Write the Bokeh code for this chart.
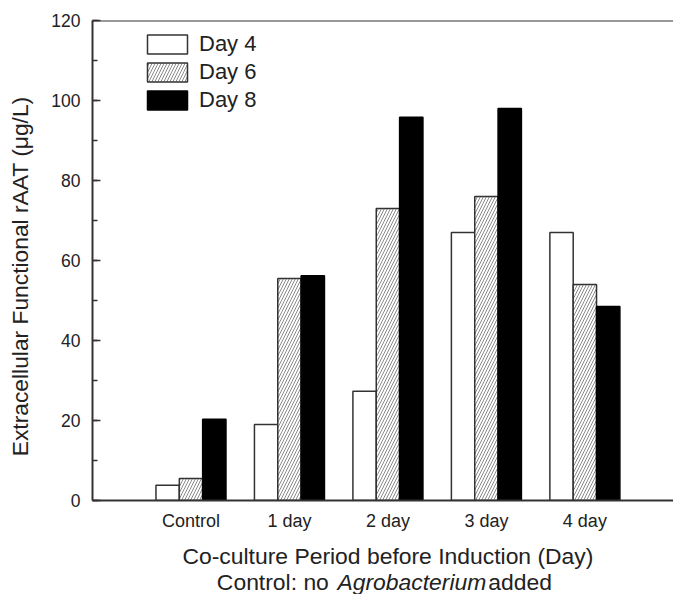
from bokeh.plotting import figure
from bokeh.models import (ColumnDataSource, FixedTicker, Range1d, Span,
                          Legend, LegendItem)
from bokeh.core.properties import value
from bokeh.layouts import column
from bokeh.transform import dodge
from bokeh.embed import file_html
from bokeh.resources import INLINE

categories = ["Control", "1 day", "2 day", "3 day", "4 day"]
series_names = ["Day 4", "Day 6", "Day 8"]
day4 = [3.8, 19.0, 27.3, 67.0, 67.0]
day6 = [5.5, 55.5, 73.0, 76.0, 54.0]
day8 = [20.3, 56.2, 95.8, 98.0, 48.5]
y_ticks = [0, 20, 40, 60, 80, 100, 120]
x_title = "Co-culture Period before Induction (Day)"
x_note = ["Control: no", "Agrobacterium", "added"]

FONT = "Liberation Sans"
bar_w = 0.237
xs = list(range(1, len(categories) + 1))
xr = Range1d(0, 5.9)

p = figure(width=673, height=540, output_backend="svg", toolbar_location=None,
           x_range=xr, y_range=Range1d(0, 120),
           min_border_left=92, min_border_right=0, min_border_top=20,
           min_border_bottom=40)
p.outline_line_color = None
p.xgrid.visible = False
p.ygrid.visible = False
p.background_fill_color = "white"
p.border_fill_color = "white"

src = ColumnDataSource(dict(x=xs, d4=day4, d6=day6, d8=day8))
r4 = p.vbar(x=dodge("x", -bar_w, range=p.x_range), top="d4", width=bar_w, source=src,
            fill_color="white", line_color="#333333", line_width=1.5)
r6 = p.vbar(x=dodge("x", 0, range=p.x_range), top="d6", width=bar_w, source=src,
            fill_color="white", line_color="#333333", line_width=1.5,
            hatch_pattern="/", hatch_color="#8a8a8a", hatch_scale=6, hatch_weight=1)
r8 = p.vbar(x=dodge("x", bar_w, range=p.x_range), top="d8", width=bar_w, source=src,
            fill_color="black", line_color="black", line_width=1.5)

# axes
p.xaxis.ticker = FixedTicker(ticks=xs)
p.xaxis.major_label_overrides = {i: c for i, c in zip(xs, categories)}
p.xaxis.major_tick_line_color = None
p.xaxis.minor_tick_line_color = None
p.xaxis.axis_line_width = 2
p.xaxis.axis_line_color = "#333333"
p.xaxis.major_label_text_font = FONT
p.xaxis.major_label_text_font_size = "18px"
p.xaxis.major_label_text_color = "#222222"
p.xaxis.major_label_standoff = 4

p.yaxis.ticker = FixedTicker(ticks=y_ticks, minor_ticks=list(range(0, 121, 10)))
p.yaxis.axis_line_width = 2
p.yaxis.axis_line_color = "#333333"
p.yaxis.major_tick_in = 8
p.yaxis.major_tick_out = 0
p.yaxis.minor_tick_in = 5
p.yaxis.minor_tick_out = 0
p.yaxis.major_tick_line_width = 1.5
p.yaxis.minor_tick_line_width = 1.5
p.yaxis.major_tick_line_color = "#333333"
p.yaxis.minor_tick_line_color = "#333333"
p.yaxis.major_label_text_font = FONT
p.yaxis.major_label_text_font_size = "17.5px"
p.yaxis.major_label_text_color = "#222222"
p.yaxis.major_label_standoff = 12
p.yaxis.axis_label = "Extracellular Functional rAAT (\u03bcg/L)" + "\u00a0" * 5
p.yaxis.axis_label_text_font = FONT
p.yaxis.axis_label_text_font_size = "22.8px"
p.yaxis.axis_label_text_font_style = "normal"
p.yaxis.axis_label_text_color = "#222222"
p.yaxis.axis_label_standoff = 15

p.add_layout(Span(location=120, dimension="width", line_color="#333333", line_width=2))

legend = Legend(items=[LegendItem(label=series_names[0], renderers=[r4]),
                       LegendItem(label=series_names[1], renderers=[r6]),
                       LegendItem(label=series_names[2], renderers=[r8])],
                location=(50, 387), glyph_width=50, glyph_height=24,
                label_height=24, spacing=2, padding=0, margin=0,
                label_text_font=FONT, label_text_font_size="22px",
                label_text_color="#222222", label_standoff=7,
                border_line_color=None, background_fill_alpha=0)
p.add_layout(legend)

# x-axis title area (two lines, one word italic) as a text strip below
q = figure(width=673, height=54, output_backend="svg", toolbar_location=None,
           x_range=xr, y_range=Range1d(54, 0),
           min_border_left=92, min_border_right=0, min_border_top=0,
           min_border_bottom=0)
q.axis.visible = False
q.grid.visible = False
q.outline_line_color = None
q.background_fill_color = "white"
q.border_fill_color = "white"

tkw = dict(text_font=value(FONT), text_font_size="22.9px", text_color="#222222",
           text_baseline="middle")
q.text(x=[3.0], y=[15], text=[x_title], text_align="center", **tkw)
q.text(x=[2.40], y=[41], text=[x_note[0]], text_align="right", **tkw)
q.text(x=[2.487], y=[41], text=[x_note[1]], text_align="left",
       text_font_style="italic", **tkw)
q.text(x=[4.02], y=[41], text=[x_note[2]], text_align="left", **tkw)

layout = column(p, q, spacing=0)
open("out.html", "w").write(file_html(layout, INLINE))
